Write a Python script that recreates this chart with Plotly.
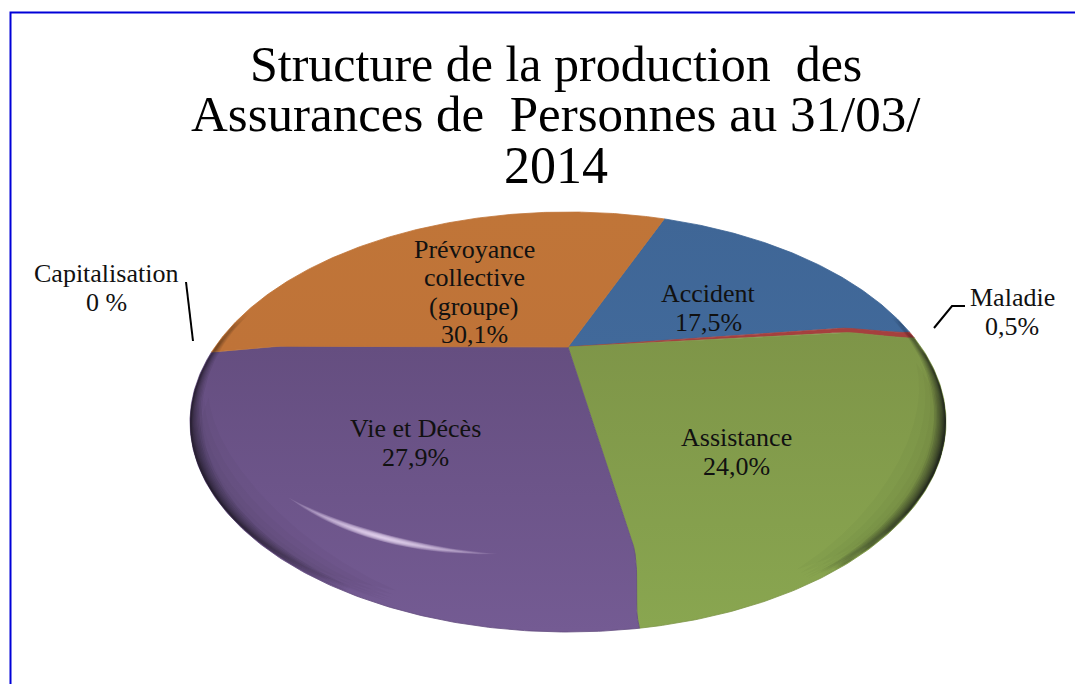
import numpy as np
import plotly.graph_objects as go

# ---- data (clockwise from the start angle) ----
categories = ["Accident", "Maladie", "Assistance", "Vie et Décès", "Capitalisation", "Prévoyance collective (groupe)"]
shares = [17.5, 0.5, 24.0, 27.9, 0.0, 30.1]
label_lines = [["Accident", "17,5%"], ["Maladie", "0,5%"], ["Assistance", "24,0%"], ["Vie et Décès", "27,9%"],
               ["Capitalisation", "0 %"], ["Prévoyance", "collective", "(groupe)", "30,1%"]]
label_x = [708, 1012, 736, 415, 106, 474]
label_y = [308, 312, 452, 443, 288, 292]
title_lines = ["Structure de la production  des", "Assurances de  Personnes au 31/03/", "2014"]
title_y = [64, 114, 165]
title_sizes = [50, 51, 52]

# ---- styles ----
fills = {
    "Accident": ("#41699a", "#3f6696"),
    "Maladie": ("#a5403e", "#a5403e"),
    "Assistance": ("#89a650", "#7e9548"),
    "Vie et Décès": ("#745b93", "#654e80"),
    "Capitalisation": ("#4f94aa", "#4f94aa"),
    "Prévoyance collective (groupe)": ("#bf7338", "#c07538"),
}
FONT = "Liberation Serif"
CX, CY, RX, RY, P = 568.0, 422.0, 378.0, 210.0, 0.357
START = 68.7
S0 = 0.78
LABEL_PITCH = 28.5


def project(s, deg):
    """Perspective view of a point of the unit disk (radius s, angle deg)."""
    s = np.asarray(s, float)
    t = np.radians(deg)
    u, v = s * np.cos(t), s * np.sin(t)
    d = 1 + P * v
    return CX + RX * u * np.sqrt(1 - P**2) / d, CY - RY * (v + P) / d


def rim_angle(deg):
    """The rounded rim drags the far left and right slice edges a little downwards."""
    left = (deg - 177 + 180) % 360 - 180
    right = (deg - 4 + 180) % 360 - 180
    return deg + 4.5 * np.exp(-(left / 40.0) ** 2) - 1.0 * np.exp(-(right / 15.0) ** 2)


def bend(deg):
    sin, cos = np.sin(np.radians(deg)), np.cos(np.radians(deg))
    if sin > 0.3:
        return 0.0
    if sin < -0.5:
        return 2.2
    return 3.0 if cos > 0 else -2.0


def ray(deg):
    """Slice edge: straight on the flat top, then bent over the rounded rim."""
    s = np.linspace(0, 1, 50)
    f = np.clip((s - S0) / (1 - S0), 0, 1)
    f = f * f * (3 - 2 * f)
    end = rim_angle(deg)
    return project(s, end + bend(deg) * (1 - f))


def crescent(a0, a1, mid, half, slope=0.0, n=80):
    """Tapered band along the disk, used for rim shading and the highlight."""
    a = np.linspace(a0, a1, n)
    w = half * np.sin(np.pi * (a - a0) / (a1 - a0))
    m = mid + slope * (a - (a0 + a1) / 2)
    xo, yo = project(m + w, a)
    xi, yi = project(m - w, a)
    return np.r_[xo, xi[::-1]], np.r_[yo, yi[::-1]]


fig = go.Figure()
angle = START
for name, share in zip(categories, shares):
    span = share * 3.6
    if span > 0:
        xa, ya = ray(angle)
        xb, yb = ray(angle - span)
        arc = np.linspace(rim_angle(angle), rim_angle(angle - span), max(int(span * 2), 3))
        xr, yr = project(np.ones_like(arc), arc)
        c0, c1 = fills[name]
        fig.add_trace(go.Scatter(
            x=np.r_[xa, xr, xb[::-1]], y=np.r_[ya, yr, yb[::-1]],
            mode="lines", line=dict(width=0.8, color=c1), fill="toself", name=name, hoverinfo="name",
            fillgradient=dict(type="vertical", colorscale=[[0, c0], [1, c1]]),
        ))
    angle -= span

# rim shading: many faint layers so that the rim looks smooth
for half in np.geomspace(0.04, 0.012, 5):
    for a0, a1 in [(195, 250), (-62, -5)]:
        x, y = crescent(a0, a1, 1 - half, half)
        fig.add_trace(go.Scatter(x=x, y=y, mode="lines", line=dict(width=0), fill="toself",
                                 fillcolor="rgba(10,10,20,0.025)", hoverinfo="skip"))
for half in np.geomspace(0.014, 0.0015, 14):
    for a0, a1, op in [(168, 245, 0.07), (-60, 10, 0.09)]:
        x, y = crescent(a0, a1, 1 - half, half)
        fig.add_trace(go.Scatter(x=x, y=y, mode="lines", line=dict(width=0), fill="toself",
                                 fillcolor=f"rgba(10,10,20,{op})", hoverinfo="skip"))

# specular highlight
for k in np.linspace(1, 0.12, 14):
    x, y = crescent(243 - 17 * k, 243 + 17 * k, 0.85, 0.011 * k, slope=-0.0019)
    fig.add_trace(go.Scatter(x=x, y=y, mode="lines", line=dict(width=0), fill="toself",
                             fillcolor="rgba(245,230,255,0.12)", hoverinfo="skip"))

annotations = []
for x, y, lines in zip(label_x, label_y, label_lines):
    for i, line in enumerate(lines):
        annotations.append(dict(x=x, y=y + (i - (len(lines) - 1) / 2) * LABEL_PITCH, text=line,
                                showarrow=False, xanchor="center", yanchor="middle",
                                font=dict(family=FONT, size=26, color="#111111")))
for y, line, size in zip(title_y, title_lines, title_sizes):
    annotations.append(dict(x=556, y=y, text=line, showarrow=False, xanchor="center", yanchor="middle",
                            font=dict(family=FONT, size=size, color="black")))

shapes = [
    dict(type="line", x0=186, y0=282, x1=193, y1=341, line=dict(color="black", width=2)),
    dict(type="path", path="M 934 328 L 952 306 L 965 306", line=dict(color="black", width=2)),
    dict(type="path", path="M 10.5 690 L 10.5 12.5 L 1090 12.5", line=dict(color="#0000d8", width=2)),
]

# the page keeps an 8 px body margin, so the figure covers x 8..1083, y 8..684
fig.update_layout(
    width=1075, height=676, autosize=False,
    margin=dict(l=0, r=0, t=0, b=0),
    paper_bgcolor="white", plot_bgcolor="white", showlegend=False,
    xaxis=dict(range=[8, 1083], visible=False, fixedrange=True),
    yaxis=dict(range=[684, 8], visible=False, fixedrange=True),
    annotations=annotations, shapes=shapes,
)
fig.write_html("out.html", config=dict(displayModeBar=False))
